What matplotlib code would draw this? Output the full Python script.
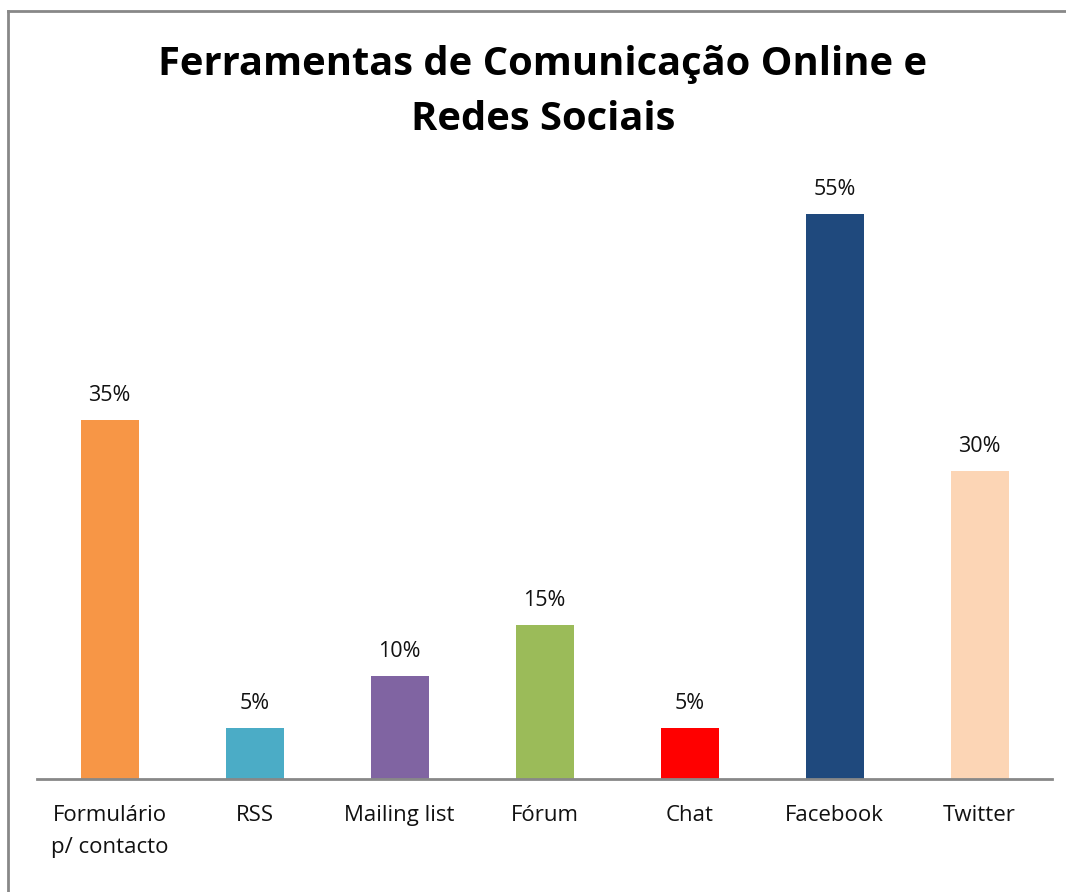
import matplotlib
matplotlib.use("Agg")
import matplotlib.pyplot as plt
from matplotlib.lines import Line2D

categories = ["Formulário\np/ contacto", "RSS", "Mailing list", "Fórum", "Chat", "Facebook", "Twitter"]
values = [35, 5, 10, 15, 5, 55, 30]
labels = ["35%", "5%", "10%", "15%", "5%", "55%", "30%"]
colors = ["#F79646", "#4BACC6", "#8064A2", "#9BBB59", "#FF0000", "#1F497D", "#FCD5B5"]
title = "Ferramentas de Comunicação Online e\nRedes Sociais"

W, H = 1066, 892
fig = plt.figure(figsize=(W / 100, H / 100), dpi=100)
plt.rcParams['font.family'] = ['Open Sans', 'DejaVu Sans']

ax = fig.add_axes([37 / W, 113 / H, (1052 - 37) / W, (779 - 163) / H])
x = list(range(len(categories)))
ax.bar(x, values, width=0.4, color=colors)
ax.set_xlim(-0.5, len(categories) - 0.5)
ax.set_ylim(0, 60)
for xi, v, lab in zip(x, values, labels):
    ax.annotate(lab, (xi, v), xytext=(0, 10), textcoords="offset points",
                ha="center", va="bottom", fontsize=15.5, color="#111111")
ax.set_xticks(x)
ax.set_xticklabels(categories, fontsize=16, color="#111111", linespacing=1.65)
ax.tick_params(axis="x", length=0, pad=19)
ax.set_yticks([])
for s in ["left", "right", "top"]:
    ax.spines[s].set_visible(False)
ax.spines["bottom"].set_color("#888888")
ax.spines["bottom"].set_linewidth(2)

fig.text(543 / W, 1 - 92 / H, title, ha="center", va="center", fontsize=28.7,
         fontweight="bold", linespacing=1.55, color="#000000")

# outer border (left and top edges visible)
fig.add_artist(Line2D([7.5 / W, 7.5 / W], [0, 1 - 10.5 / H], transform=fig.transFigure, color="#888888", lw=2))
fig.add_artist(Line2D([7.5 / W, 1], [1 - 10.5 / H, 1 - 10.5 / H], transform=fig.transFigure, color="#888888", lw=2))

fig.savefig("out.png", dpi=100)
